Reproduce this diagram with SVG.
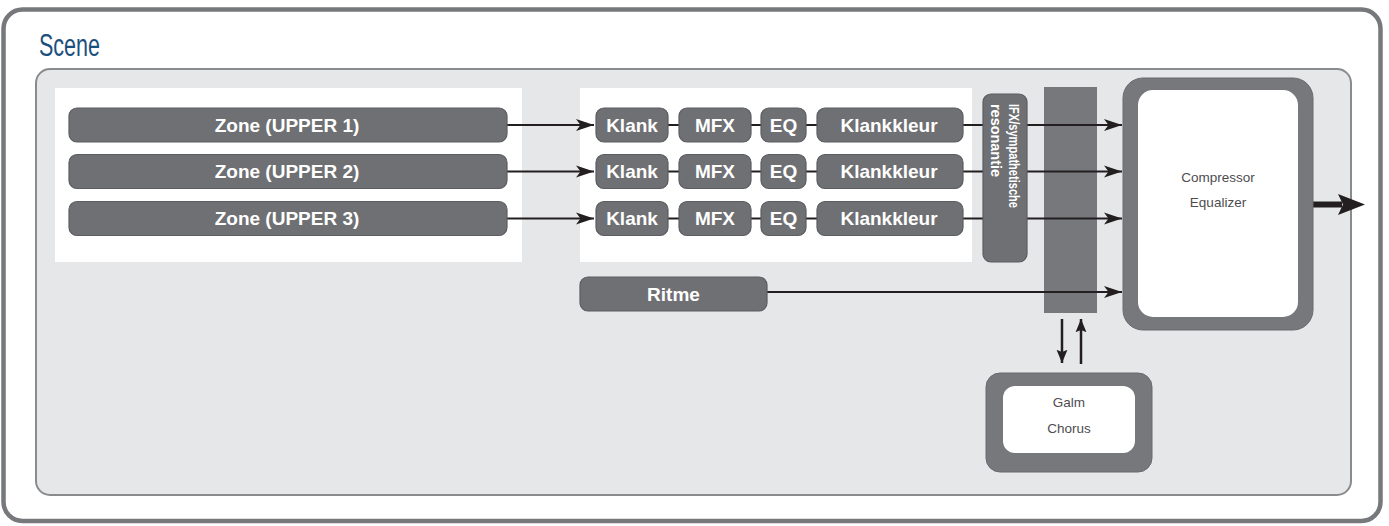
<svg xmlns="http://www.w3.org/2000/svg" width="1389" height="526" viewBox="0 0 1389 526">
<defs>
<marker id="ah" markerUnits="userSpaceOnUse" markerWidth="19" markerHeight="13" refX="18" refY="6.5" orient="auto" viewBox="0 0 19 13">
<path d="M0,0.5 L18,6.5 L0,12.5 L4.5,6.5 Z" fill="#231f20"/>
</marker>
<marker id="ahv" markerUnits="userSpaceOnUse" markerWidth="14" markerHeight="18" refX="17" refY="7" orient="auto" viewBox="0 0 18 14">
<path d="M0,0 L17,7 L0,14 L3,7 Z" fill="#231f20"/>
</marker>
<style>
.bar{fill:#6f7073;stroke:#5c5d60;stroke-width:1.2}
.bt{font-family:"Liberation Sans",Arial,sans-serif;font-weight:bold;font-size:19px;fill:#ffffff;text-anchor:middle}
.it{font-family:"Liberation Sans",Arial,sans-serif;font-weight:bold;font-size:14px;fill:#ffffff}
.lt{font-family:"Liberation Sans",Arial,sans-serif;font-size:13.5px;fill:#4d4d4f;text-anchor:middle}
.ln{stroke:#231f20;stroke-width:2;fill:none}
.arr{stroke:#231f20;stroke-width:2;fill:none;marker-end:url(#ah)}
.varr{stroke:#231f20;stroke-width:2.5;fill:none;marker-end:url(#ahv)}
</style>
</defs>
<g id="frame">
<rect x="3.5" y="9.5" width="1377" height="511.5" rx="19" fill="#ffffff" stroke="#77787b" stroke-width="4.5"/>
<text x="39" y="56" font-family="Liberation Sans, Arial, sans-serif" font-size="31" fill="#1b4f7d" textLength="61" lengthAdjust="spacingAndGlyphs">Scene</text>
</g>
<g id="panel">
<rect x="36" y="69" width="1315" height="426" rx="14" fill="#e6e7e8" stroke="#8a8b8d" stroke-width="2"/>
<rect x="55" y="88" width="467" height="174" fill="#ffffff"/>
<rect x="580" y="88" width="392" height="174" fill="#ffffff"/>
</g>
<g id="bus">
<rect x="1044" y="87" width="53" height="226" fill="#77787b"/>
</g>
<g id="connectors">
<line class="arr" x1="507" y1="125" x2="594" y2="125"/>
<line class="arr" x1="507" y1="171.5" x2="594" y2="171.5"/>
<line class="arr" x1="507" y1="218.5" x2="594" y2="218.5"/>
<path class="ln" d="M668,125 H679 M751,125 H761 M806,125 H817 M668,171.5 H679 M751,171.5 H761 M806,171.5 H817 M668,218.5 H679 M751,218.5 H761 M806,218.5 H817"/>
<line class="arr" x1="963" y1="125" x2="1122" y2="125"/>
<line class="arr" x1="963" y1="171.5" x2="1122" y2="171.5"/>
<line class="arr" x1="963" y1="218.5" x2="1122" y2="218.5"/>
<line class="arr" x1="767" y1="292" x2="1122" y2="292"/>
<line class="varr" x1="1062" y1="319" x2="1062" y2="363"/>
<line class="varr" x1="1081" y1="364" x2="1081" y2="319"/>
<line x1="1313" y1="204.5" x2="1342" y2="204.5" stroke="#231f20" stroke-width="6"/>
<path d="M1338,194 L1365,204.5 L1338,215 L1343,204.5 Z" fill="#231f20"/>
</g>
<g id="zone1"><rect class="bar" x="69" y="108" width="438" height="34" rx="8"/><text class="bt" x="287" y="131.5">Zone (UPPER 1)</text></g>
<g id="zone2"><rect class="bar" x="69" y="154.5" width="438" height="34" rx="8"/><text class="bt" x="287" y="178">Zone (UPPER 2)</text></g>
<g id="zone3"><rect class="bar" x="69" y="201.5" width="438" height="34" rx="8"/><text class="bt" x="287" y="225">Zone (UPPER 3)</text></g>
<g id="row1">
<rect class="bar" x="596" y="108" width="72" height="34" rx="8"/><text class="bt" x="632" y="131.5">Klank</text>
<rect class="bar" x="679" y="108" width="72" height="34" rx="8"/><text class="bt" x="715" y="131.5">MFX</text>
<rect class="bar" x="761" y="108" width="45" height="34" rx="8"/><text class="bt" x="783.5" y="131.5">EQ</text>
<rect class="bar" x="817" y="108" width="146" height="34" rx="8"/><text class="bt" x="889" y="131.5">Klankkleur</text>
</g>
<g id="row2">
<rect class="bar" x="596" y="154.5" width="72" height="34" rx="8"/><text class="bt" x="632" y="178">Klank</text>
<rect class="bar" x="679" y="154.5" width="72" height="34" rx="8"/><text class="bt" x="715" y="178">MFX</text>
<rect class="bar" x="761" y="154.5" width="45" height="34" rx="8"/><text class="bt" x="783.5" y="178">EQ</text>
<rect class="bar" x="817" y="154.5" width="146" height="34" rx="8"/><text class="bt" x="889" y="178">Klankkleur</text>
</g>
<g id="row3">
<rect class="bar" x="596" y="201.5" width="72" height="34" rx="8"/><text class="bt" x="632" y="225">Klank</text>
<rect class="bar" x="679" y="201.5" width="72" height="34" rx="8"/><text class="bt" x="715" y="225">MFX</text>
<rect class="bar" x="761" y="201.5" width="45" height="34" rx="8"/><text class="bt" x="783.5" y="225">EQ</text>
<rect class="bar" x="817" y="201.5" width="146" height="34" rx="8"/><text class="bt" x="889" y="225">Klankkleur</text>
</g>
<g id="ifx">
<rect class="bar" x="983" y="94" width="44" height="168" rx="8"/>
<text class="it" transform="translate(1009,104) rotate(90)" x="0" y="0" textLength="104" lengthAdjust="spacingAndGlyphs">IFX/sympathetische</text>
<text class="it" transform="translate(990.5,104) rotate(90)" x="0" y="0" textLength="73" lengthAdjust="spacingAndGlyphs">resonantie</text>
</g>
<g id="ritme"><rect class="bar" x="580" y="277" width="187" height="34" rx="8"/><text class="bt" x="673.5" y="300.5">Ritme</text></g>
<g id="compressor">
<rect x="1123" y="78" width="190" height="252" rx="20" fill="#77787b" stroke="#6a6b6e" stroke-width="1"/>
<rect x="1138" y="90" width="160" height="227" rx="15" fill="#ffffff"/>
<text class="lt" x="1218" y="182">Compressor</text>
<text class="lt" x="1218" y="207">Equalizer</text>
</g>
<g id="galm">
<rect x="986" y="373" width="166" height="99" rx="14" fill="#77787b" stroke="#6a6b6e" stroke-width="1"/>
<rect x="1003" y="386" width="132" height="67" rx="12" fill="#ffffff"/>
<text class="lt" x="1069" y="407">Galm</text>
<text class="lt" x="1069" y="433">Chorus</text>
</g>
</svg>
